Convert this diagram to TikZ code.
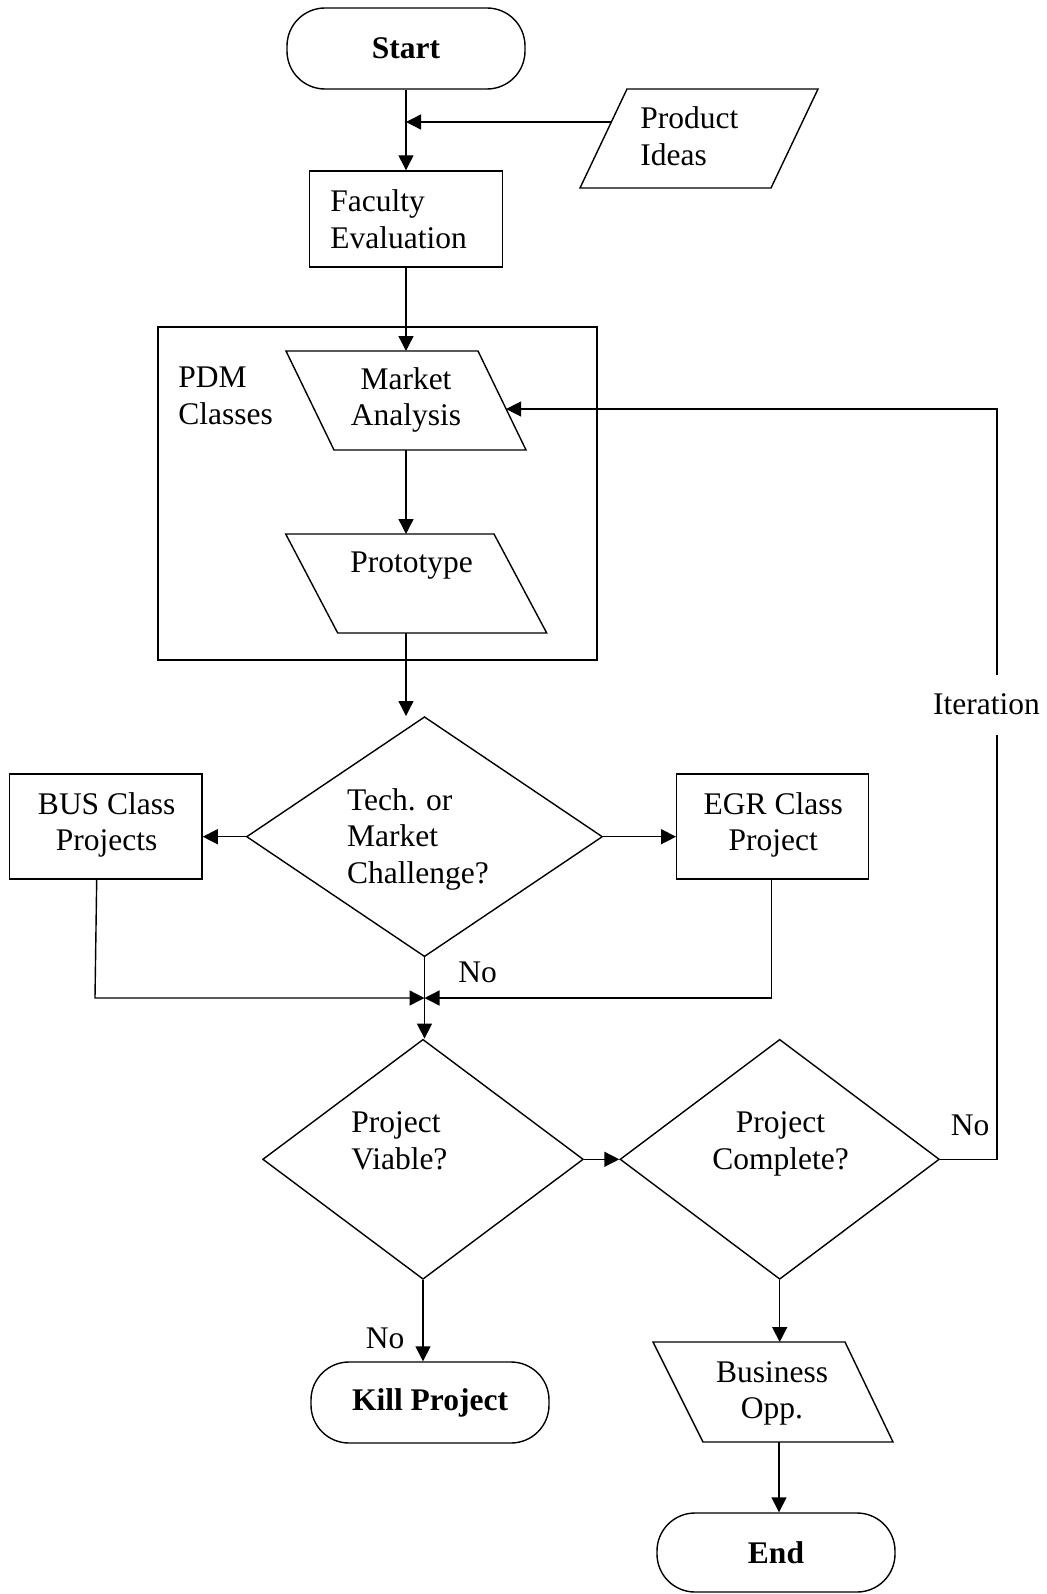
\documentclass[tikz,border=0pt]{standalone}
\usepackage{fontspec}
\setmainfont{Liberation Serif}
\usetikzlibrary{shapes.geometric,arrows.meta,calc}
\begin{document}
\begin{tikzpicture}[x=0.5pt,y=-0.5pt,
  every node/.style={font=\fontsize{15.75}{18.35}\selectfont},
  bold/.style={font=\fontsize{15.75}{18.35}\selectfont\bfseries},
  line/.style={line width=0.7pt},
  arr/.style={line width=0.7pt,-{Triangle[length=7.5pt,width=7.5pt]}},
  term/.style={draw,line width=0.7pt,rounded corners=19pt,minimum width=119pt,inner sep=0pt},
  procbox/.style={draw,line width=0.7pt,inner sep=0pt},
  dec/.style={draw,line width=0.7pt,diamond,inner sep=0pt},
  txt/.style={inner sep=0pt,align=left},
  ctxt/.style={inner sep=0pt,align=center}]
\useasboundingbox (0,0) rectangle (1047,1594);

% Start
\node[term,minimum height=40.5pt,bold] (startn) at (406,48.5) {Start};

% Faculty Evaluation
\node[procbox,minimum width=96.5pt,minimum height=48pt] (fac) at (406,219) {};
\node[txt,anchor=west] (factxt) at (330,219) {Faculty\\Evaluation};

% Product Ideas
\draw[line] (627,89) -- (818,89) -- (771,188) -- (580,188) -- cycle;
\node[txt,anchor=west] (pitxt) at (640,136) {Product\\Ideas};
\coordinate (piL) at (611.3,122);

% PDM box
\node[procbox,minimum width=219.5pt,minimum height=166.5pt] (pdm) at (377.5,493.5) {};
\node[txt,anchor=west] (pdmtxt) at (178,396) {PDM\\Classes};

% Market Analysis
\draw[line] (286,351) -- (478,351) -- (526,450) -- (334,450) -- cycle;
\coordinate (maT) at (406,351);
\coordinate (maB) at (406,450);
\coordinate (maR) at (506.1,409);
\node[ctxt] (matxt) at (406,400) {Market\\Analysis};

% Prototype
\draw[line] (285.7,534) -- (494,534) -- (546.7,633) -- (337.7,633) -- cycle;
\coordinate (prT) at (406,534);
\coordinate (prB) at (406,633);
\node[ctxt] (prtxt) at (411.7,565.6) {Prototype};

% Decision 1
\node[dec,minimum width=178pt,minimum height=120pt] (d1) at (424.5,836.7) {};
\node[txt,anchor=west] (d1txt) at (346.7,839.3) {Tech. or\\Market\\Challenge?};
\coordinate (d1in) at (406,716);

% BUS / EGR
\node[procbox,minimum width=96.35pt,minimum height=52.5pt] (bus) at (105.7,826.5) {};
\node[ctxt] (bustxt) at (106.7,825) {BUS Class\\Projects};
\node[procbox,minimum width=96pt,minimum height=52.5pt] (egr) at (772.7,826.5) {};
\node[ctxt] (egrtxt) at (773.3,825) {EGR Class\\Project};

% Decision 2 and 3
\node[dec,minimum width=160.35pt,minimum height=120pt] (d2) at (423,1159.3) {};
\node[txt,anchor=west] (d2txt) at (351,1140.5) {Project\\Viable?};
\node[dec,minimum width=159.7pt,minimum height=120pt] (d3) at (779.7,1159.3) {};
\node[ctxt] (d3txt) at (780.5,1144) {Project\\Complete?};

% Kill Project
\node[term,minimum height=40.5pt,bold] (kill) at (430,1402.5) {Kill Project};

% Business Opp.
\draw[line] (653,1342) -- (845,1342) -- (893,1442) -- (703,1442) -- cycle;
\coordinate (boT) at (779.7,1342);
\coordinate (boB) at (779,1442);
\node[ctxt] (botxt) at (772,1393.4) {Business\\Opp.};

% End
\node[term,minimum height=39.5pt,bold] (endn) at (776,1552.5) {End};

% Labels
\node (no1) at (477.7,972.4) {No};
\node (no2) at (970,1125) {No};
\node (no3) at (385,1338) {No};
\node[inner sep=0pt] (itlab) at (986.5,704) {Iteration};

% Connectors
\draw[arr] (startn.south) -- (fac.north);
\draw[arr] (piL) -- (piL -| startn.south);
\draw[arr] (fac.south) -- (maT);
\draw[arr] (maB) -- (prT);
\draw[arr] (prB) -- (d1in);
\draw[arr] (d1.west) -- (d1.west -| bus.east);
\draw[arr] (d1.east) -- (d1.east -| egr.west);
\coordinate (jn) at (424.5,998);
\coordinate (busout) at ($(bus.south)+(-9,0)$);
\coordinate (busc) at (95,998);
\coordinate (egrout) at ($(egr.south)+(-1.4,0)$);
\draw[arr] (busout) -- (busc) -- (jn);
\draw[arr] (egrout) |- (jn);
\draw[arr] (d1.south) -- (d1.south |- d2.north);
\draw[arr] (d2.east) -- (d3.west);
\coordinate (lpB) at (997,1159.3);
\coordinate (itB) at (997,735);
\coordinate (itT) at (997,675);
\coordinate (lpT) at (997,409);
\draw[line] (d3.east) -- (lpB) -- (itB);
\draw[arr] (itT) -- (lpT) -- (maR);
\draw[arr] (d2.south) -- (d2.south |- kill.north);
\draw[arr] (d3.south) -- (boT);
\draw[arr] (boB) -- (boB |- endn.north);
\end{tikzpicture}
\end{document}
